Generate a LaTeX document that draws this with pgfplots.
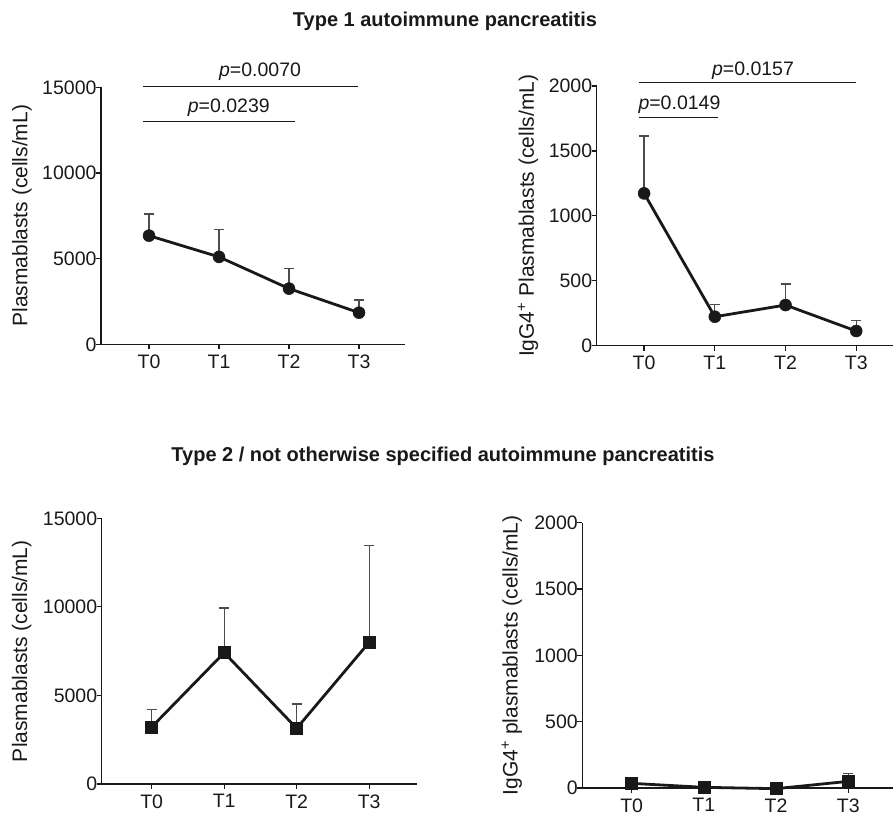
\documentclass[border=0pt]{standalone}
\usepackage{pgfplots}
\pgfplotsset{compat=1.18}
\usepackage{fontspec}
\setmainfont{Liberation Sans}
\begin{document}
\begin{tikzpicture}
\useasboundingbox (0pt,0pt) rectangle (894pt,813pt);
\pgfplotsset{
  panel/.style={
    scale only axis,
    anchor=south west,
    axis x line=bottom, axis y line=left,
    axis line style={-, line width=1.2pt, black!90},
    tick align=outside,
    major tick length=5pt,
    tick style={line width=1.2pt, black!90},
    xtick={0,1,2,3}, xticklabels={T0,T1,T2,T3},
    ymin=0,
    clip=false,
    scaled y ticks=false,
    /pgf/number format/assume math mode=true,
    /pgf/number format/1000 sep={},
    tick label style={font=\fontsize{19.5}{22}\selectfont, black!90},
    yticklabel style={xshift=4pt},
    xticklabel style={yshift=-2pt},
    label style={font=\fontsize{21}{24}\selectfont, black!90},
  },
  ebars/.style={only marks, mark=none, forget plot,
    error bars/.cd, y dir=plus, y explicit,
    error bar style={line width=1.3pt, black!70},
    error mark options={rotate=90, mark size=5pt, line width=1.3pt, black!70}},
  series/.style={black!90, line width=2.8pt, mark size=6pt, mark options={line width=0.5pt}},
  pline/.style={black!90, line width=1.2pt, no marks, forget plot},
}
\tikzset{plabel/.style={anchor=base, font=\fontsize{19.5}{22}\selectfont, black!90}}

% titles
\node[anchor=base, black!90, font=\bfseries\fontsize{20}{24}\selectfont] at (445pt,786.3pt) {Type 1 autoimmune pancreatitis};
\node[anchor=base, black!90, font=\bfseries\fontsize{20}{24}\selectfont] at (443pt,351.3pt) {Type 2 / not otherwise specified autoimmune pancreatitis};

% type 1, plasmablasts
\begin{axis}[panel, at={(101pt,468.7pt)}, width=304pt, height=257pt,
  xmin=-0.686, xmax=3.657, ymax=15000, ytick={0,5000,10000,15000},
  ylabel={Plasmablasts (cells/mL)},
  ylabel style={at={(axis description cs:-0.26,0.5)}, anchor=center}]
  \addplot[ebars] table[x=x, y=y, y error=e] {
    x y e
    0 6340 1270
    1 5100 1616
    2 3250 1165
    3 1845 742
  };
  \addplot[series, mark=*] table[x=x, y=y] {
    x y
    0 6340
    1 5100
    2 3250
    3 1845
  };
  \addplot[pline] coordinates {(-0.086,15050) (2.986,15050)};
  \addplot[pline] coordinates {(-0.086,12980) (2.086,12980)};
  \node[plabel] at (axis cs:1.586,15050) [yshift=10pt] {\itshape p\upshape =0.0070};
  \node[plabel] at (axis cs:1.14,12980) [yshift=9pt] {\itshape p\upshape =0.0239};
\end{axis}

% type 1, IgG4+ plasmablasts
\begin{axis}[panel, at={(596.7pt,467.3pt)}, width=296.3pt, height=259.7pt,
  xmin=-0.67, xmax=3.52, ymax=2000, ytick={0,500,1000,1500,2000},
  ylabel={IgG4\textsuperscript{+} Plasmablasts (cells/mL)},
  ylabel style={at={(axis description cs:-0.232,0.5)}, anchor=center}]
  \addplot[ebars] table[x=x, y=y, y error=e] {
    x y e
    0 1173 442
    1 223 96
    2 313 162
    3 113 80
  };
  \addplot[series, mark=*] table[x=x, y=y] {
    x y
    0 1173
    1 223
    2 313
    3 113
  };
  \addplot[pline] coordinates {(-0.07,2025) (3.0,2025)};
  \addplot[pline] coordinates {(-0.07,1756) (1.04,1756)};
  \node[plabel] at (axis cs:1.54,2025) [yshift=7.7pt] {\itshape p\upshape =0.0157};
  \node[plabel] at (axis cs:0.5,1756) [yshift=7.7pt] {\itshape p\upshape =0.0149};
\end{axis}

% type 2 / NOS, plasmablasts
\begin{axis}[panel, at={(101.7pt,29pt)}, width=315.3pt, height=265.7pt,
  xmin=-0.69, xmax=3.66, ymax=15000, ytick={0,5000,10000,15000},
  ylabel={Plasmablasts (cells/mL)},
  ylabel style={at={(axis description cs:-0.254,0.5)}, anchor=center}]
  \addplot[ebars] table[x=x, y=y, y error=e] {
    x y e
    0 3218 998
    1 7413 2522
    2 3142 1374
    3 7998 5455
  };
  \addplot[series, mark=square*] table[x=x, y=y] {
    x y
    0 3218
    1 7413
    2 3142
    3 7998
  };
\end{axis}

% type 2 / NOS, IgG4+ plasmablasts
\begin{axis}[panel, at={(582.3pt,25pt)}, width=310.7pt, height=265.3pt,
  xmin=-0.684, xmax=3.62, ymax=2000, ytick={0,500,1000,1500,2000},
  ylabel={IgG4\textsuperscript{+} plasmablasts (cells/mL)},
  ylabel style={at={(axis description cs:-0.227,0.5)}, anchor=center}]
  \addplot[ebars] table[x=x, y=y, y error=e] {
    x y e
    0 35 10
    1 5 0
    2 -5 0
    3 50 60
  };
  \addplot[series, mark=square*] table[x=x, y=y] {
    x y
    0 35
    1 5
    2 -5
    3 50
  };
\end{axis}
\end{tikzpicture}
\end{document}
